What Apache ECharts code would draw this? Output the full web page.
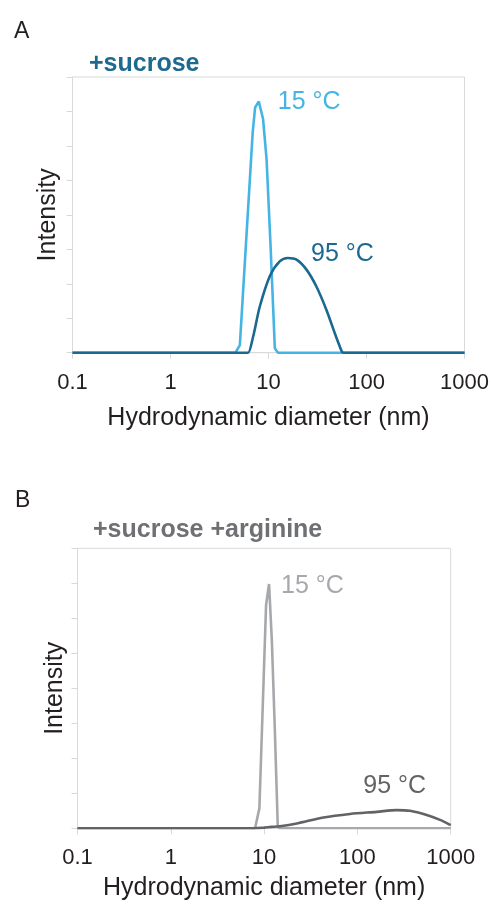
<!DOCTYPE html>
<html>
<head>
<meta charset="utf-8">
<script src="https://cdn.jsdelivr.net/npm/echarts@6/dist/echarts.min.js"></script>
<style>html,body{margin:0;padding:0;background:#fff}#c{width:492px;height:907px}</style>
</head>
<body>
<div id="c"></div>
<script>
// ---- data (x: hydrodynamic diameter in nm, y: intensity, arbitrary units) ----
const xTickLabels = ['0.1', '1', '10', '100', '1000'];
const panelLetters = ['A', 'B'];
const panelTitles = ['+sucrose', '+sucrose +arginine'];
const seriesNames = ['15 °C', '95 °C'];

const a15 = [[0.1,0],[4.6,0],[5.1,0.22],[6.9,6.4],[7.3,7.12],[7.96,7.29],[8.8,6.78],[9.55,5.62],[10.5,3.09],[11.6,0.13],[12.5,0],[1000,0]];
const a95 = [[0.1,0],[5.9,0],[6.19,0],[6.97,0.47],[8.15,1.34],[10.3,2.22],[13.0,2.65],[15.8,2.75],[19.3,2.70],[24.4,2.41],[30.8,1.92],[39.0,1.24],[47.4,0.57],[55.5,0.06],[57.6,0],[60,0],[1000,0]];
const b15 = [[0.1,0],[8.0,0],[8.9,0.57],[10.5,6.38],[11.3,6.98],[12.1,5.38],[13.0,2.9],[14.0,0.09],[14.6,0],[1000,0]];
const b95 = [[0.1,0],[7.5,0],[8.0,0],[10,0.02],[12,0.04],[14.8,0.06],[22.4,0.14],[43.2,0.31],[83.4,0.41],[161,0.47],[264,0.52],[366,0.50],[553,0.38],[768,0.24],[1000,0.09]];

const FONT = "'Liberation Sans', Arial, Helvetica, sans-serif";
const GRID_GRAY = '#d9d9d9';
const colors = { a15: '#45b4e4', a95: '#1b6990', b15: '#a6a8ab', b95: '#626366', titleA: '#1d6a8e', titleB: '#6f7073' };

function peak(d) { return d.reduce((m, p) => p[1] > m[1] ? p : m, d[0]); }

function xAxisFor(gridIndex, nameGap) {
  return {
    type: 'log', logBase: 10, min: 0.1, max: 1000, gridIndex,
    name: 'Hydrodynamic diameter (nm)', nameLocation: 'middle', nameGap,
    nameTextStyle: { fontFamily: FONT, fontSize: 25, color: '#231f20' },
    axisLine: { show: true, lineStyle: { color: GRID_GRAY, width: 1 } },
    axisTick: { show: true, length: 6, lineStyle: { color: GRID_GRAY } },
    splitLine: { show: false },
    minorTick: { show: false },
    axisLabel: {
      margin: 19, fontFamily: FONT, fontSize: 22, color: '#231f20',
      formatter: v => { const i = Math.round(Math.log10(v)) + 1; return xTickLabels[i] !== undefined ? xTickLabels[i] : ''; }
    }
  };
}
function yAxisFor(gridIndex, nameGap) {
  return {
    type: 'value', min: 0, max: 8, interval: 1, gridIndex,
    name: 'Intensity', nameLocation: 'middle', nameGap,
    nameTextStyle: { fontFamily: FONT, fontSize: 25, color: '#231f20' },
    axisLine: { show: true, lineStyle: { color: GRID_GRAY, width: 1 } },
    axisTick: { show: true, length: 6, lineStyle: { color: GRID_GRAY } },
    axisLabel: { show: false },
    splitLine: { show: false }
  };
}
function lineSeries(name, data, color, idx, smooth, labelPos, labelDist, labelOffset) {
  return {
    type: 'line', name, data, xAxisIndex: idx, yAxisIndex: idx,
    showSymbol: false, symbol: 'none', smooth,
    lineStyle: { color, width: 2.6 }, itemStyle: { color },
    z: name === '95 °C' ? 3 : 2,
    markPoint: {
      symbol: 'circle', symbolSize: 0, silent: true,
      data: [{ coord: peak(data) }],
      label: { show: true, formatter: name, position: labelPos, distance: labelDist, offset: labelOffset,
               fontFamily: FONT, fontSize: 25, color }
    }
  };
}

const chart = echarts.init(document.getElementById('c'), null, { renderer: 'canvas' });
chart.setOption({
  animation: false,
  backgroundColor: '#fff',
  title: [
    { text: panelLetters[0], left: 9, top: 15, textStyle: { fontFamily: FONT, fontSize: 23, fontWeight: 'normal', color: '#231f20' } },
    { text: panelTitles[0], left: 84, top: 47, textStyle: { fontFamily: FONT, fontSize: 25, fontWeight: 'bold', color: colors.titleA } },
    { text: panelLetters[1], left: 10, top: 484, textStyle: { fontFamily: FONT, fontSize: 23, fontWeight: 'normal', color: '#231f20' } },
    { text: panelTitles[1], left: 88, top: 513, textStyle: { fontFamily: FONT, fontSize: 25, fontWeight: 'bold', color: colors.titleB } }
  ],
  grid: [
    { left: 72.5, right: 27, top: 77, height: 275.7, show: true, borderColor: GRID_GRAY, borderWidth: 1, containLabel: false },
    { left: 77.5, right: 41.3, top: 548.3, height: 280, show: true, borderColor: GRID_GRAY, borderWidth: 1, containLabel: false }
  ],
  xAxis: [xAxisFor(0, 53), xAxisFor(1, 47)],
  yAxis: [yAxisFor(0, 12), yAxisFor(1, 10)],
  series: [
    lineSeries(seriesNames[0], a15, colors.a15, 0, false, 'right', 19, [0, 1]),
    lineSeries(seriesNames[1], a95, colors.a95, 0, 0.3, 'right', 23, [0, -4]),
    lineSeries(seriesNames[0], b15, colors.b15, 1, false, 'right', 12, [0, 2]),
    lineSeries(seriesNames[1], b95, colors.b95, 1, 0.3, 'top', 11, [-2, 0])
  ]
});
</script>
</body>
</html>
